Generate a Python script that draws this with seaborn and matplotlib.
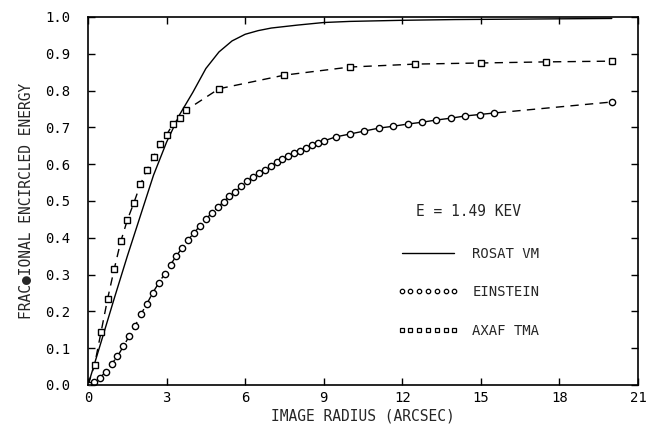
import matplotlib
matplotlib.use("Agg")
import matplotlib.pyplot as plt
from matplotlib.lines import Line2D
import seaborn as sns

# ROSAT VM (solid curve)
rosat_x = [0, 0.5, 1, 1.5, 2, 2.5, 3, 3.5, 4, 4.5, 5, 5.5, 6, 6.5, 7, 8, 9, 10, 12, 14, 16, 18, 20]
rosat_y = [0, 0.117, 0.235, 0.35, 0.46, 0.57, 0.66, 0.735, 0.795, 0.86, 0.905, 0.935, 0.953,
           0.963, 0.97, 0.978, 0.985, 0.988, 0.991, 0.993, 0.994, 0.995, 0.996]

# EINSTEIN (circles)
einstein_x = [0, 0.225, 0.45, 0.675, 0.9, 1.125, 1.35, 1.575, 1.8, 2.025, 2.25, 2.475, 2.7,
              2.925, 3.15, 3.375, 3.6, 3.825, 4.05, 4.275, 4.5, 4.725, 4.95, 5.175, 5.4,
              5.625, 5.85, 6.075, 6.3, 6.525, 6.75, 6.975, 7.2, 7.425, 7.65, 7.875, 8.1,
              8.325, 8.55, 8.775, 9.0,
              9.45, 10.0, 10.55, 11.1, 11.65, 12.2, 12.75, 13.3, 13.85, 14.4, 14.95, 15.5,
              20.0]
einstein_y = [0, 0.008, 0.02, 0.035, 0.057, 0.078, 0.105, 0.133, 0.161, 0.193, 0.221, 0.251,
              0.277, 0.302, 0.327, 0.351, 0.373, 0.395, 0.413, 0.433, 0.451, 0.467, 0.483,
              0.498, 0.513, 0.525, 0.54, 0.553, 0.565, 0.575, 0.585, 0.595, 0.605, 0.613,
              0.622, 0.63, 0.637, 0.645, 0.652, 0.658, 0.663,
              0.674, 0.682, 0.69, 0.698, 0.703, 0.709, 0.714, 0.72, 0.725, 0.731, 0.735, 0.739,
              0.769]

# AXAF TMA (squares)
axaf_x = [0, 0.25, 0.5, 0.75, 1.0, 1.25, 1.5, 1.75, 2.0, 2.25, 2.5, 2.75, 3.0, 3.25, 3.5, 3.75,
          5, 7.5, 10, 12.5, 15, 17.5, 20]
axaf_y = [0, 0.055, 0.145, 0.235, 0.315, 0.39, 0.448, 0.495, 0.545, 0.585, 0.62, 0.655, 0.68,
          0.71, 0.725, 0.747, 0.805, 0.842, 0.864, 0.872, 0.875, 0.878, 0.88]

x_ticks = [0, 3, 6, 9, 12, 15, 18, 21]
y_ticks = [0.0, 0.1, 0.2, 0.3, 0.4, 0.5, 0.6, 0.7, 0.8, 0.9, 1.0]

sns.set_style("ticks")
plt.rcParams['font.family'] = ['DejaVu Sans Mono', 'DejaVu Sans']

fig = plt.figure(figsize=(6.55, 4.29), dpi=100)
ax = fig.add_axes([0.1344, 0.1026, 0.8396, 0.8578])

dash = (0, (6, 4.5))
sns.lineplot(x=rosat_x, y=rosat_y, ax=ax, color='black', lw=1.0, sort=False, estimator=None)
sns.lineplot(x=einstein_x, y=einstein_y, ax=ax, color='black', lw=1.0, linestyle=dash,
             marker='o', ms=4.5, mfc='white', mec='black', mew=1.0, sort=False, estimator=None)
sns.lineplot(x=axaf_x, y=axaf_y, ax=ax, color='black', lw=1.0, linestyle=dash,
             marker='s', ms=4.5, mfc='white', mec='black', mew=1.0, sort=False, estimator=None)

ax.set_xlim(0, 21)
ax.set_ylim(0, 1.0)
ax.set_xticks(x_ticks)
ax.set_yticks(y_ticks)
ax.set_xticklabels([str(t) for t in x_ticks])
ax.set_yticklabels([f"{t:.1f}" for t in y_ticks])
ax.tick_params(direction='in', length=5, width=1, top=True, right=True,
               labelsize=10, colors='black')
ax.tick_params(axis='x', pad=4)
ax.tick_params(axis='y', pad=13)
for s in ax.spines.values():
    s.set_linewidth(1.2)
    s.set_color('black')

ax.set_xlabel("IMAGE RADIUS (ARCSEC)", fontsize=10.5, labelpad=3)
ax.set_ylabel("FRAC\u25cfIONAL ENCIRCLED ENERGY", fontsize=10.5, labelpad=8)

handles = [
    Line2D([], [], color='black', lw=1.0),
    Line2D([], [], color='black', ls='none', marker='o', ms=3.2, mfc='white', mew=0.9),
    Line2D([], [], color='black', ls='none', marker='s', ms=3.2, mfc='white', mew=0.9),
]
leg = ax.legend(handles, ["ROSAT VM", "EINSTEIN", "AXAF TMA"], title="E = 1.49 KEV",
                frameon=False, numpoints=7, handlelength=4.4, handletextpad=1.0,
                labelspacing=1.75, fontsize=10, title_fontsize=10.5,
                loc='center left', bbox_to_anchor=(0.54, 0.31))
leg._legend_box.sep = 20

fig.savefig("out.png", dpi=100)
